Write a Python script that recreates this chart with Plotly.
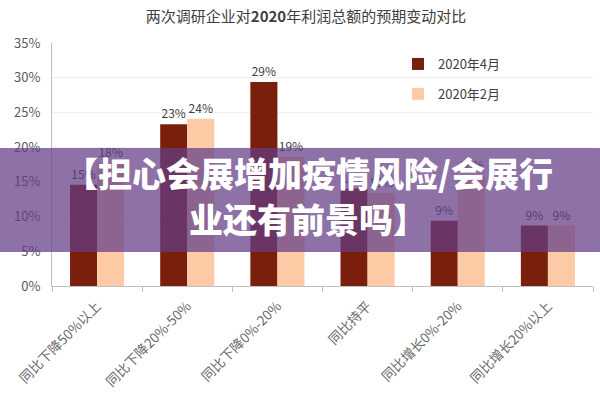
import plotly.graph_objects as go

categories = ["同比下降50%以上", "同比下降20%-50%", "同比下降0%-20%", "同比持平", "同比增长0%-20%", "同比增长20%以上"]
april = [14.6, 23.3, 29.4, 14.0, 9.4, 8.7]
feb = [17.7, 24.1, 18.6, 13.4, 15.8, 8.7]
series_names = ["2020年4月", "2020年2月"]
y_ticks = [0, 5, 10, 15, 20, 25, 30, 35]
y_tick_text = ["0%", "5%", "10%", "15%", "20%", "25%", "30%", "35%"]

W, H = 600, 400
L, R, T, B = 52, 7, 43, 114
pw, ph = W - L - R, H - T - B

def px_x(px):
    return (px - L) / pw

def px_y(py):
    return (H - B - py) / ph

fig = go.Figure()
fig.add_trace(go.Bar(x=categories, y=april, name=series_names[0], legendgroup="a",
                     marker=dict(color="#7a1f0b", line=dict(width=0)),
                     text=[f"{v:.0f}%" for v in april], textposition="outside",
                     textfont=dict(size=12, color="#404040"), cliponaxis=False))
fig.add_trace(go.Bar(x=categories, y=feb, name=series_names[1], legendgroup="b",
                     marker=dict(color="#fccba6", line=dict(width=0)),
                     text=[f"{v:.0f}%" for v in feb], textposition="outside",
                     textfont=dict(size=12, color="#404040"), cliponaxis=False))

fig.update_layout(
    width=W, height=H,
    margin=dict(l=L, r=R, t=T, b=B, autoexpand=False),
    paper_bgcolor="white", plot_bgcolor="white",
    font=dict(family="Noto Sans CJK SC, Noto Sans, sans-serif", color="#595959"),
    barmode="group", bargap=0.4, bargroupgap=0,
    title=dict(text="两次调研企业对<b>2020</b>年利润总额的预期变动对比",
               x=306 / W, xref="container", xanchor="center",
               y=1 - 17 / H, yref="container", yanchor="middle",
               font=dict(size=15, color="#404040")),
    legend=dict(x=px_x(398), y=px_y(49), xanchor="left", yanchor="top",
                font=dict(size=13, color="#404040"), bgcolor="rgba(0,0,0,0)",
                traceorder="grouped", tracegroupgap=10, itemwidth=30),
    showlegend=True,
)
fig.update_yaxes(range=[0, 35], tickmode="array", tickvals=y_ticks, ticktext=y_tick_text,
                 automargin=False, ticklabelstandoff=8,
                 showgrid=True, gridcolor="#efefef", gridwidth=1,
                 showline=True, linecolor="#bfbfbf", linewidth=1,
                 tickfont=dict(size=13, color="#595959"), zeroline=False)
fig.update_xaxes(tickangle=-45, tickson="boundaries", ticks="outside", ticklen=5,
                 automargin=False, ticklabelstandoff=6,
                 tickcolor="#bfbfbf", showline=True, linecolor="#bfbfbf", linewidth=1,
                 tickfont=dict(size=13.5, color="#6a6a6a"))

# overlay banner
fig.add_shape(type="rect", xref="paper", yref="paper",
              x0=px_x(-5), x1=px_x(605), y0=px_y(252), y1=px_y(148),
              fillcolor="rgba(100,60,135,0.73)", line=dict(width=0), layer="above")
fig.add_annotation(text="【担心会展增加疫情风险/会展行", xref="paper", yref="paper",
                   x=px_x(308), y=px_y(172), xanchor="center", yanchor="middle",
                   showarrow=False,
                   font=dict(size=34, color="white", family="Noto Sans CJK SC", weight=900))
fig.add_annotation(text="业还有前景吗】", xref="paper", yref="paper",
                   x=px_x(308), y=px_y(218), xanchor="center", yanchor="middle",
                   showarrow=False,
                   font=dict(size=34, color="white", family="Noto Sans CJK SC", weight=900))

fig.write_html("out.html", post_script="document.body.style.margin='0';",
               config={"displayModeBar": False})
